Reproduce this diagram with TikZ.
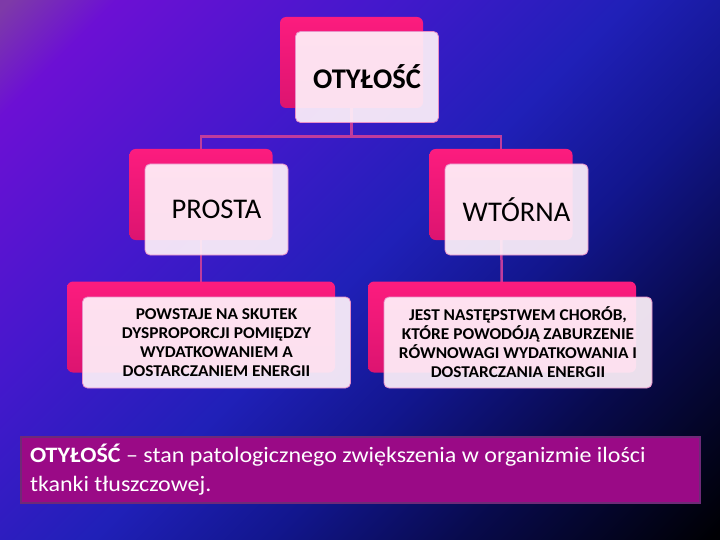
\documentclass[tikz,border=0pt]{standalone}
\usepackage{fontspec}
\setmainfont{Carlito}
\newfontfamily\stretchfont{Carlito}[FakeStretch=1.09]
\newfontfamily\boxfont{Carlito}[FakeStretch=1.05]
\usetikzlibrary{calc}

\definecolor{bgA}{HTML}{7E3AA8}
\definecolor{bgB}{HTML}{6C10D4}
\definecolor{bgC}{HTML}{4418CC}
\definecolor{bgD}{HTML}{2020B8}
\definecolor{bgE}{HTML}{12168E}
\definecolor{bgF}{HTML}{080A4C}
\definecolor{bgG}{HTML}{000004}
\definecolor{pinktop}{HTML}{FC1C7E}
\definecolor{pinkbot}{HTML}{DC1470}
\definecolor{paper}{HTML}{FFF2FA}
\definecolor{paperline}{HTML}{E890C8}
\definecolor{linkcol}{HTML}{C03C9C}
\definecolor{defnfill}{HTML}{9A0A86}
\definecolor{defnline}{HTML}{6E2A78}

\pgfdeclarehorizontalshading{bgfade}{100bp}{color(0bp)=(bgA); color(15bp)=(bgA);
  color(21bp)=(bgB); color(36bp)=(bgC); color(50bp)=(bgD); color(60bp)=(bgE);
  color(71bp)=(bgF); color(85bp)=(bgG); color(100bp)=(bgG)}

\pgfdeclarelayer{backdrop}
\pgfdeclarelayer{links}
\pgfsetlayers{backdrop,links,main}

\begin{document}
\begin{tikzpicture}
[x=1pt,y=-1pt,%
  backbox/.style={rectangle,rounded corners=6pt,top color=pinktop,bottom color=pinkbot,inner sep=0pt},%
  frontbox/.style={rectangle,rounded corners=5pt,fill=paper,fill opacity=0.92,text opacity=1,
    draw=paperline,line width=0.8pt,inner sep=0pt,align=center},%
  small/.style={backbox,minimum width=143pt,minimum height=91pt},%
  smallfront/.style={frontbox,minimum width=143pt,minimum height=91pt,font=\fontsize{28.5}{32}\selectfont},%
  wide/.style={backbox,minimum width=268pt,minimum height=91pt},%
  widefront/.style={frontbox,minimum width=268pt,minimum height=91pt,font=\boxfont\bfseries\fontsize{16.5}{19}\selectfont},%
  link/.style={draw=linkcol,line width=2.5pt}]
\useasboundingbox (0,0) rectangle (720,540);
\begin{pgfonlayer}{backdrop}
\shade[shading=bgfade,shading angle=-45] (0,0) rectangle (720,540);
\end{pgfonlayer}
% top level
\node[small] (otylback) at (351.5,62.5) {};
\node[smallfront,font=\bfseries\fontsize{28.5}{32}\selectfont] (otyl) at (367,77) {OTYŁOŚĆ};
% second level
\node[small] (prostaback) at (201,194.5) {};
\node[smallfront] (prosta) at (216.5,209.5) {PROSTA};
\node[small] (wtornaback) at (501,194.5) {};
\node[smallfront] (wtorna) at (516.5,209.5) {WTÓRNA};
% third level
\node[wide] (powstajeback) at (201,327) {};
\node[widefront] (powstaje) at (216.5,342.5)
  {POWSTAJE NA SKUTEK\\DYSPROPORCJI POMIĘDZY\\WYDATKOWANIEM A\\DOSTARCZANIEM ENERGII};
\node[wide] (jestback) at (502,327) {};
\node[widefront] (jest) at (518,342.5)
  {JEST NASTĘPSTWEM CHORÓB,\\KTÓRE POWODÓJĄ ZABURZENIE\\RÓWNOWAGI WYDATKOWANIA I\\DOSTARCZANIA ENERGII};
% definition
\node[rectangle,fill=defnfill,draw=defnline,line width=2pt,text=white,
  minimum width=679pt,minimum height=66pt,inner xsep=9pt,text width=661pt,align=flush left,
  font=\stretchfont\fontsize{22}{29}\selectfont] (defn) at (360.5,470)
  {\textbf{OTYŁOŚĆ} – stan patologicznego zwiększenia w organizmie ilości\\tkanki tłuszczowej.};
\begin{pgfonlayer}{links}
\draw[link] (otylback.center) -- ++(0,74) -| (prostaback.center);
\draw[link] (otylback.center) -- ++(0,74) -| (wtornaback.center);
\draw[link] (prostaback.center) -- (powstajeback.center);
\draw[link] (wtornaback.center) -- (jestback.center);
\end{pgfonlayer}
\end{tikzpicture}
\end{document}
